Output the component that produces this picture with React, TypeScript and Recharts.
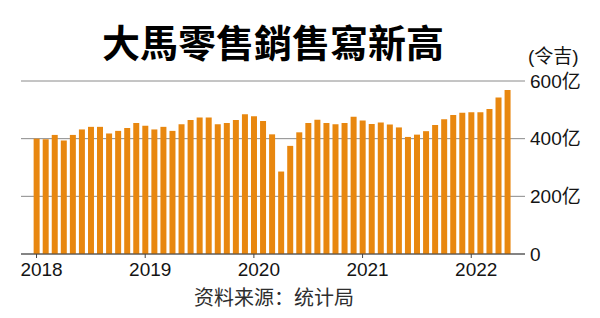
import { BarChart, Bar, XAxis, YAxis, CartesianGrid } from "recharts";

// Monthly retail sales, RM 100 million ("亿"), Jan 2018 – May 2022
const MONTHS = [
  "2018-01", "2018-02", "2018-03", "2018-04", "2018-05", "2018-06",
  "2018-07", "2018-08", "2018-09", "2018-10", "2018-11", "2018-12",
  "2019-01", "2019-02", "2019-03", "2019-04", "2019-05", "2019-06",
  "2019-07", "2019-08", "2019-09", "2019-10", "2019-11", "2019-12",
  "2020-01", "2020-02", "2020-03", "2020-04", "2020-05", "2020-06",
  "2020-07", "2020-08", "2020-09", "2020-10", "2020-11", "2020-12",
  "2021-01", "2021-02", "2021-03", "2021-04", "2021-05", "2021-06",
  "2021-07", "2021-08", "2021-09", "2021-10", "2021-11", "2021-12",
  "2022-01", "2022-02", "2022-03", "2022-04", "2022-05",
];

const SALES = [
  400, 398, 413, 394, 413, 432, 441, 441, 418, 427, 437, 454,
  445, 432, 441, 427, 450, 465, 473, 473, 450, 454, 465, 485,
  478, 461, 415, 286, 375, 422, 454, 466, 454, 450, 454, 476,
  463, 451, 456, 449, 439, 406, 414, 426, 447, 467, 482, 490,
  492, 492, 503, 543, 569,
];

const Y_TICKS = [0, 200, 400, 600];

const BAR_COLOR = "#e8870f";
const GRID_COLOR = "#8a8a8a";
const AXIS_COLOR = "#444444";
const TEXT_COLOR = "#141414";
const LATIN_FONT = "'Liberation Sans', Arial, 'Noto Sans CJK SC', sans-serif";

const chartData = MONTHS.map((m, i) => ({ month: m, sales: SALES[i] }));

function YearTick({ x, y, payload }: { x?: number; y?: number; payload?: { value: string } }) {
  const value = payload?.value ?? "";
  if (!value.endsWith("-01") || x == null || y == null) return null;
  return (
    <g>
      <line x1={x} y1={y} x2={x} y2={y + 4} stroke={AXIS_COLOR} strokeWidth={1} />
      <text
        x={x + 5}
        y={y + 22}
        textAnchor="middle"
        fontSize={19}
        fontFamily={LATIN_FONT}
        fill={TEXT_COLOR}
      >
        {value.slice(0, 4)}
      </text>
    </g>
  );
}

export default function App() {
  return (
    <div
      style={{
        position: "absolute",
        left: 0,
        top: 0,
        width: 600,
        height: 318,
        background: "#fff",
      }}
    >
      <div
        style={{
          position: "absolute",
          left: 102,
          top: 17,
          fontSize: 38,
          fontWeight: 700,
          lineHeight: "48px",
          fontFamily: "'Noto Sans CJK TC', 'Noto Sans CJK SC', sans-serif",
          color: "#000",
          whiteSpace: "nowrap",
        }}
      >
        大馬零售銷售寫新高
      </div>
      <div
        style={{
          position: "absolute",
          left: 528,
          top: 45,
          fontSize: 19,
          lineHeight: "24px",
          fontFamily: LATIN_FONT,
          color: TEXT_COLOR,
          whiteSpace: "nowrap",
        }}
      >
        (令吉)
      </div>
      <BarChart
        width={600}
        height={318}
        data={chartData}
        margin={{ top: 81, right: 0, left: 21, bottom: 34 }}
        barCategoryGap="18%"
      >
        <CartesianGrid stroke={GRID_COLOR} vertical={false} />
        <XAxis
          dataKey="month"
          height={30}
          interval={0}
          tickSize={0}
          tickMargin={0}
          tickLine={false}
          axisLine={{ stroke: AXIS_COLOR, strokeWidth: 1.2 }}
          padding={{ left: 11, right: 13 }}
          tick={<YearTick />}
        />
        <YAxis
          orientation="right"
          width={75}
          domain={[0, 600]}
          ticks={Y_TICKS}
          axisLine={false}
          tickLine={false}
          tickSize={0}
          tickMargin={5}
          tickFormatter={(v: number) => (v === 0 ? "0" : `${v}亿`)}
          tick={{ fontSize: 19, fill: TEXT_COLOR, fontFamily: LATIN_FONT }}
        />
        <Bar dataKey="sales" fill={BAR_COLOR} isAnimationActive={false} />
      </BarChart>
      <div
        style={{
          position: "absolute",
          left: 194,
          top: 284,
          fontSize: 20,
          lineHeight: "26px",
          fontFamily: "'Noto Sans CJK SC', sans-serif",
          color: "#2e2e2e",
          whiteSpace: "nowrap",
        }}
      >
        资料来源：统计局
      </div>
    </div>
  );
}
